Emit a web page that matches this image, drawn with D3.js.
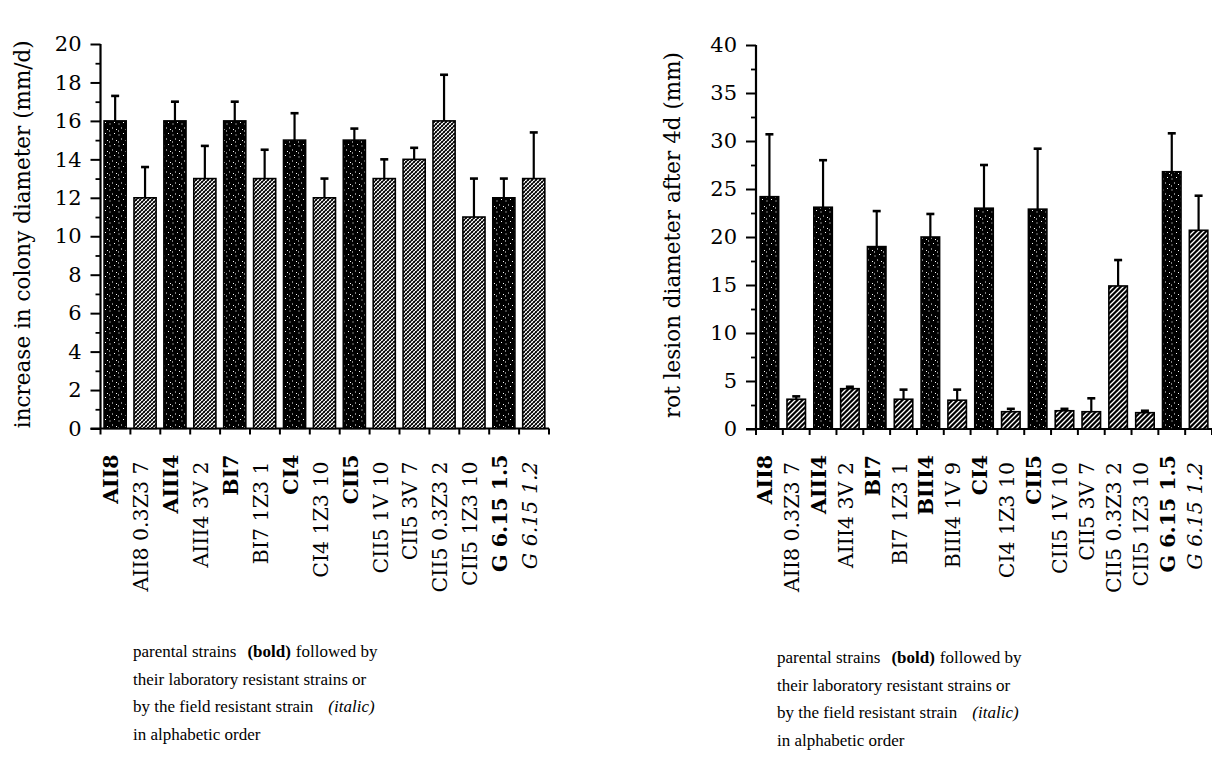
<!DOCTYPE html>
<html>
<head>
<meta charset="utf-8">
<script src="https://cdn.jsdelivr.net/npm/d3@7"></script>
<style>
  html, body { margin: 0; padding: 0; background: #fff; }
  svg { display: block; }
  .tick text { font-family: "DejaVu Serif", serif; }
</style>
</head>
<body>
<svg id="fig" width="1212" height="766"></svg>
<script>
// ---- colony growth (left panel) ----
const leftCategories = ["AII8", "AII8 0.3Z3 7", "AIII4", "AIII4 3V 2", "BI7", "BI7 1Z3 1",
  "CI4", "CI4 1Z3 10", "CII5", "CII5 1V 10", "CII5 3V 7", "CII5 0.3Z3 2", "CII5 1Z3 10",
  "G 6.15 1.5", "G 6.15 1.2"];
// p = parental strain (bold), r = laboratory resistant, f = field resistant (italic)
const leftKinds = ["p", "r", "p", "r", "p", "r", "p", "r", "p", "r", "r", "r", "r", "p", "f"];
const leftValues = [16, 12, 16, 13, 16, 13, 15, 12, 15, 13, 14, 16, 11, 12, 13];
const leftErrors = [1.3, 1.6, 1.0, 1.7, 1.0, 1.5, 1.4, 1.0, 0.6, 1.0, 0.6, 2.4, 2.0, 1.0, 2.4];
const leftTicks = [0, 2, 4, 6, 8, 10, 12, 14, 16, 18, 20];

// ---- rot lesion size (right panel) ----
const rightCategories = ["AII8", "AII8 0.3Z3 7", "AIII4", "AIII4 3V 2", "BI7", "BI7 1Z3 1",
  "BIII4", "BIII4 1V 9", "CI4", "CI4 1Z3 10", "CII5", "CII5 1V 10", "CII5 3V 7",
  "CII5 0.3Z3 2", "CII5 1Z3 10", "G 6.15 1.5", "G 6.15 1.2"];
const rightKinds = ["p", "r", "p", "r", "p", "r", "p", "r", "p", "r", "p", "r", "r", "r", "r", "p", "f"];
const rightValues = [24.2, 3.1, 23.1, 4.2, 19.0, 3.1, 20.0, 3.0, 23.0, 1.8, 22.9, 1.9, 1.8, 14.9, 1.7, 26.8, 20.7];
const rightErrors = [6.5, 0.3, 4.9, 0.2, 3.7, 1.0, 2.4, 1.1, 4.5, 0.3, 6.3, 0.2, 1.4, 2.7, 0.2, 4.0, 3.6];
const rightTicks = [0, 5, 10, 15, 20, 25, 30, 35, 40];

const captionLines = [
  [{t: "parental strains"}, {t: "(bold)", w: "bold", dx: 11}, {t: "followed by", dx: 5}],
  [{t: "their laboratory resistant strains or"}],
  [{t: "by the field resistant strain"}, {t: "(italic)", s: "italic", dx: 15}],
  [{t: "in alphabetic order"}]
];

const svg = d3.select("#fig");
svg.append("rect").attr("width", 1212).attr("height", 766).attr("fill", "#fff");

// ---- fill patterns ----
const defs = svg.append("defs");
const dots = defs.append("pattern").attr("id", "dots").attr("patternUnits", "userSpaceOnUse")
  .attr("width", 9).attr("height", 11);
dots.append("rect").attr("width", 9).attr("height", 11).attr("fill", "#000");
[[1.5, 2.5], [6, 1], [4, 6.5], [8, 8], [1, 9.5]].forEach(([cx, cy]) =>
  dots.append("rect").attr("x", cx).attr("y", cy).attr("width", 1).attr("height", 1).attr("fill", "#fff"));

const cross = defs.append("pattern").attr("id", "cross").attr("patternUnits", "userSpaceOnUse")
  .attr("width", 4).attr("height", 4);
cross.append("rect").attr("width", 4).attr("height", 4).attr("fill", "#fff");
cross.append("path").attr("d", "M-1,1 L1,-1 M0,4 L4,0 M3,5 L5,3")
  .attr("stroke", "#000").attr("stroke-width", 1.3);
cross.append("path").attr("d", "M0,0 L4,4 M-1,3 L1,5 M3,-1 L5,1")
  .attr("stroke", "#000").attr("stroke-width", 0.7);

const hatch = defs.append("pattern").attr("id", "hatch").attr("patternUnits", "userSpaceOnUse")
  .attr("width", 5).attr("height", 5);
hatch.append("rect").attr("width", 5).attr("height", 5).attr("fill", "#000");
hatch.append("path").attr("d", "M-1,1 L1,-1 M0,5 L5,0 M4,6 L6,4")
  .attr("stroke", "#fff").attr("stroke-width", 1.3);

function panel(opts) {
  const {cats, kinds, values, errors, ticks, minorStep, x0, x1, yBase, yTop, max,
         barOffset, barFrac, lightFill, title, titleX} = opts;
  const g = svg.append("g");
  const x = d3.scaleBand().domain(cats).range([x0, x1]).padding(0);
  const y = d3.scaleLinear().domain([0, max]).range([yBase, yTop]);
  const bw = x.bandwidth();

  // minor ticks
  const minors = d3.range(0, max + 1e-9, minorStep).filter(v => !ticks.includes(v));
  g.append("g").attr("transform", `translate(${x0},0)`)
    .call(d3.axisLeft(y).tickValues(minors).tickSize(5).tickFormat(""))
    .call(a => a.select(".domain").remove())
    .selectAll("line").attr("stroke-width", 1.8);

  // major ticks + labels
  g.append("g").attr("transform", `translate(${x0},0)`)
    .call(d3.axisLeft(y).tickValues(ticks).tickSize(10).tickPadding(9).tickFormat(d3.format("d")))
    .call(a => a.select(".domain").remove())
    .call(a => a.selectAll("line").attr("stroke-width", 2))
    .call(a => a.selectAll("text").attr("font-size", 21).attr("fill", "#000"));

  // y axis line
  g.append("line").attr("x1", x0).attr("x2", x0).attr("y1", y(0)).attr("y2", y(max))
    .attr("stroke", "#000").attr("stroke-width", 2.2);

  // baseline + ticks at band boundaries
  g.append("line").attr("x1", x0 - 10).attr("x2", x1).attr("y1", y(0)).attr("y2", y(0))
    .attr("stroke", "#000").attr("stroke-width", 2.2);
  const bounds = cats.map(c => x(c)).concat([x1]);
  g.selectAll(".xt").data(bounds).join("line")
    .attr("x1", d => d).attr("x2", d => d).attr("y1", y(0)).attr("y2", y(0) + 6)
    .attr("stroke", "#000").attr("stroke-width", 2);

  // bars
  const data = cats.map((c, i) => ({c, k: kinds[i], v: values[i], e: errors[i]}));
  const bars = g.selectAll(".bar").data(data).join("g");
  bars.append("rect")
    .attr("x", d => x(d.c) + bw * barOffset).attr("width", bw * barFrac)
    .attr("y", d => y(d.v)).attr("height", d => y(0) - y(d.v))
    .attr("fill", d => d.k === "p" ? "url(#dots)" : `url(#${lightFill})`)
    .attr("stroke", "#000").attr("stroke-width", 1.6);

  // upper error bars
  const cx = d => x(d.c) + bw * barOffset + bw * barFrac / 2;
  bars.append("line").attr("x1", cx).attr("x2", cx)
    .attr("y1", d => y(d.v)).attr("y2", d => y(d.v + d.e))
    .attr("stroke", "#000").attr("stroke-width", 2.2);
  bars.append("line").attr("x1", d => cx(d) - 4).attr("x2", d => cx(d) + 4)
    .attr("y1", d => y(d.v + d.e)).attr("y2", d => y(d.v + d.e))
    .attr("stroke", "#000").attr("stroke-width", 2.6);

  // category labels, rotated
  g.selectAll(".cl").data(data).join("text")
    .attr("transform", d => `translate(${x(d.c) + bw / 2 - 4},${d.k === "p" ? y(0) + 26 : y(0) + 33}) rotate(-90)`)
    .attr("text-anchor", "end").attr("dominant-baseline", "central")
    .attr("font-family", "DejaVu Serif, serif").attr("font-size", 20.5)
    .attr("font-weight", d => d.k === "p" ? "bold" : "normal")
    .attr("font-style", d => d.k === "f" ? "italic" : "normal")
    .attr("fill", "#000")
    .text(d => d.c);

  // axis title
  g.append("text")
    .attr("transform", `translate(${titleX},${(y(0) + y(max)) / 2 - 2}) rotate(-90)`)
    .attr("text-anchor", "middle").attr("dominant-baseline", "central")
    .attr("font-family", "DejaVu Serif, serif").attr("font-size", 21.5).attr("fill", "#000")
    .text(title);
}

panel({cats: leftCategories, kinds: leftKinds, values: leftValues, errors: leftErrors,
  ticks: leftTicks, minorStep: 1, x0: 100.5, x1: 549, yBase: 428.5, yTop: 44, max: 20,
  barOffset: 0.12, barFrac: 0.74, lightFill: "cross",
  title: "increase in colony diameter (mm/d)", titleX: 22});

panel({cats: rightCategories, kinds: rightKinds, values: rightValues, errors: rightErrors,
  ticks: rightTicks, minorStep: 2.5, x0: 756, x1: 1212, yBase: 429, yTop: 45, max: 40,
  barOffset: 0.155, barFrac: 0.69, lightFill: "hatch",
  title: "rot lesion diameter after 4d (mm)", titleX: 672});

// captions under each panel
function caption(x, y0) {
  const t = svg.append("text").attr("font-family", "Liberation Serif, serif")
    .attr("font-size", 17).attr("fill", "#000");
  captionLines.forEach((line, i) => {
    line.forEach((seg, j) => {
      const ts = t.append("tspan").text(seg.t);
      if (j === 0) ts.attr("x", x).attr("y", y0 + i * 27.6);
      else ts.attr("dx", seg.dx);
      if (seg.w) ts.attr("font-weight", seg.w);
      if (seg.s) ts.attr("font-style", seg.s);
    });
  });
}
caption(133, 657);
caption(777, 663);
</script>
</body>
</html>
